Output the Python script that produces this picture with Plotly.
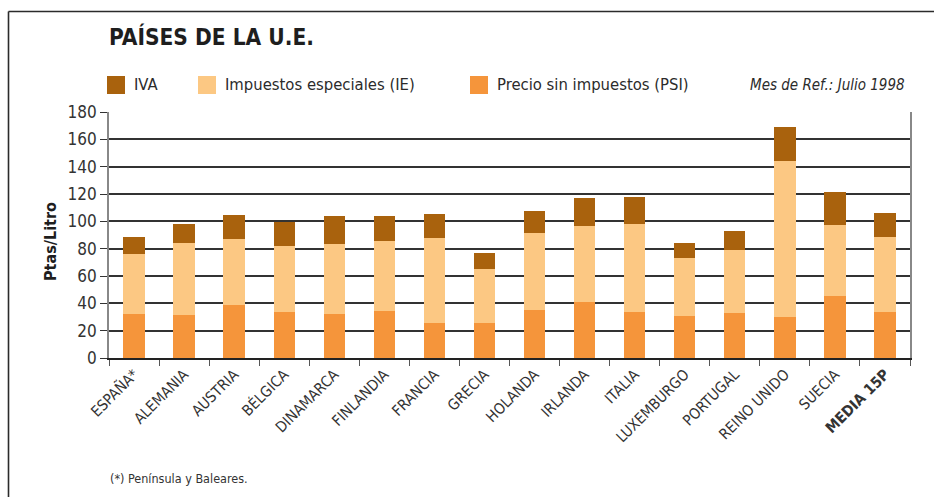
import plotly.graph_objects as go

# Fuel price breakdown (pesetas per litre), July 1998
paises = ["ESPAÑA*", "ALEMANIA", "AUSTRIA", "BÉLGICA", "DINAMARCA", "FINLANDIA",
          "FRANCIA", "GRECIA", "HOLANDA", "IRLANDA", "ITALIA", "LUXEMBURGO",
          "PORTUGAL", "REINO UNIDO", "SUECIA", "MEDIA 15P"]
psi = [32.3, 31.6, 38.9, 33.8, 32.3, 34.5, 25.8, 25.8, 35.3, 41.1, 33.8, 30.9,
       33.1, 30.1, 45.5, 33.8]
ie = [43.8, 52.6, 48.2, 48.2, 51.1, 51.1, 62.0, 39.4, 56.1, 55.5, 64.2, 42.3,
      46.0, 113.9, 51.8, 54.7]
iva = [12.7, 13.8, 17.5, 17.7, 20.5, 18.3, 17.5, 11.7, 16.1, 20.4, 19.7, 11.0,
       13.8, 24.9, 24.1, 17.6]
nombres = ["IVA", "Impuestos especiales (IE)", "Precio sin impuestos (PSI)"]
colores = ["#A9620D", "#FCC883", "#F5953B"]

FONT = "Liberation Sans Narrow, DejaVu Sans Condensed, Arial Narrow, sans-serif"
W, H = 934, 497
L, R, T, B = 109, 24, 112, 139
pw, ph = W - L - R, H - T - B


def px(x):
    return (x - L) / pw


def py(y):
    return (H - B - y) / ph


ticktext = [p if p != "MEDIA 15P" else "<b>MEDIA 15P</b>" for p in paises]

fig = go.Figure()
for vals, nombre, color in [(psi, nombres[2], colores[2]),
                            (ie, nombres[1], colores[1]),
                            (iva, nombres[0], colores[0])]:
    fig.add_trace(go.Bar(x=paises, y=vals, name=nombre, marker_color=color,
                         marker_line_width=0, showlegend=False))

shapes = [
    # outer frame (top and left edges)
    dict(type="line", xref="paper", yref="paper", x0=px(8.5), x1=px(940),
         y0=py(11.5), y1=py(11.5), line=dict(color="#2b2b2b", width=1.6)),
    dict(type="line", xref="paper", yref="paper", x0=px(8.5), x1=px(8.5),
         y0=py(11.5), y1=py(505), line=dict(color="#2b2b2b", width=1.6)),
]
annotations = [
    dict(text="<b>PAÍSES DE LA U.E.</b>", x=px(107), y=py(37), xref="paper", yref="paper",
         xanchor="left", yanchor="middle", showarrow=False,
         font=dict(family=FONT, size=22.5, color="#1e1e1e")),
    dict(text="<i>Mes de Ref.: Julio 1998</i>", x=px(907), y=py(85), xref="paper", yref="paper",
         xanchor="right", yanchor="middle", showarrow=False,
         font=dict(family=FONT, size=15, color="#2b2b2b")),
    dict(text="<b>Ptas/Litro</b>", x=px(50), y=py(242), xref="paper", yref="paper",
         xanchor="center", yanchor="middle", showarrow=False, textangle=-90,
         font=dict(family=FONT, size=16, color="#1e1e1e")),
    dict(text="(*) Península y Baleares.", x=px(108), y=py(478), xref="paper", yref="paper",
         xanchor="left", yanchor="middle", showarrow=False,
         font=dict(family=FONT, size=12.5, color="#333333")),
]
# legend: colour square + label
leg_x = [107, 198, 470]
for x0, nombre, color in zip(leg_x, nombres, colores):
    shapes.append(dict(type="rect", xref="paper", yref="paper", x0=px(x0), x1=px(x0 + 18),
                       y0=py(94), y1=py(76), fillcolor=color, line=dict(width=0)))
    annotations.append(dict(text=nombre, x=px(x0 + 25), y=py(85), xref="paper", yref="paper",
                            xanchor="left", yanchor="middle", showarrow=False,
                            font=dict(family=FONT, size=16.5, color="#2b2b2b")))

fig.update_layout(
    width=W, height=H, margin=dict(l=L, r=R, t=T, b=B),
    barmode="stack", bargap=0.574,
    plot_bgcolor="white", paper_bgcolor="white",
    font=dict(family=FONT, color="#333333"),
    shapes=shapes, annotations=annotations,
    xaxis=dict(tickmode="array", tickvals=paises, ticktext=ticktext, tickangle=-45,
               ticks="outside", tickson="boundaries", ticklen=6, tickcolor="#555555",
               tickfont=dict(family=FONT, size=15, color="#333333"),
               showline=True, linecolor="#222222", linewidth=1.6, showgrid=False),
    yaxis=dict(range=[0, 180], dtick=20, ticks="outside", ticklen=7, tickcolor="#333333",
               tickfont=dict(family=FONT, size=17, color="#333333"),
               showgrid=True, gridcolor="#333333", gridwidth=1.6,
               showline=True, linecolor="#888888", linewidth=1.6, mirror=True,
               zeroline=False),
)

fig.write_html("out.html")
